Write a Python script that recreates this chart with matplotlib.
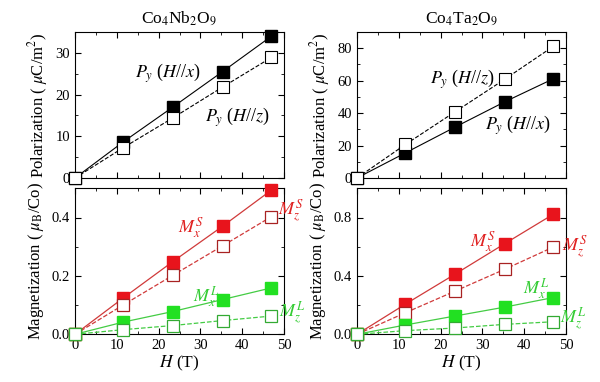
import matplotlib
matplotlib.use("Agg")
import matplotlib.pyplot as plt
from matplotlib.ticker import MultipleLocator

plt.rcParams['font.family'] = ['Liberation Serif', 'DejaVu Serif']
plt.rcParams['mathtext.fontset'] = 'stix'

H = [0, 11.6, 23.4, 35.3, 47.0]

# Co4Nb2O9
nb_Px = [0, 8.7, 17.0, 25.5, 34.0]
nb_Pz = [0, 7.3, 14.4, 21.8, 28.9]
nb_MxS = [0, 0.125, 0.249, 0.370, 0.494]
nb_MzS = [0, 0.101, 0.202, 0.303, 0.403]
nb_MxL = [0, 0.042, 0.078, 0.119, 0.159]
nb_MzL = [0, 0.016, 0.030, 0.047, 0.0625]

# Co4Ta2O9
ta_Px = [0, 15.5, 31.3, 46.9, 61.2]
ta_Pz = [0, 20.7, 40.7, 60.8, 81.2]
ta_MxS = [0, 0.207, 0.411, 0.620, 0.823]
ta_MzS = [0, 0.148, 0.295, 0.445, 0.598]
ta_MxL = [0, 0.064, 0.125, 0.186, 0.252]
ta_MzL = [0, 0.025, 0.043, 0.068, 0.086]

titles = [r'Co$_4$Nb$_2$O$_9$', r'Co$_4$Ta$_2$O$_9$']

red_fill = '#e8141c'
red_line = '#d03a3a'
red_open = '#a82222'
red_text = '#e02020'
green_fill = '#22e022'
green_line = '#44cc44'
green_open = '#33aa33'
green_text = '#33cc33'

fig = plt.figure(figsize=(6.0, 3.82), dpi=100)

lefts = [75/600, 357/600]
w = 209/600
h = 146/382
b_top = 1 - 178/382
b_bot = 1 - 334.3/382

ms = 8

def style(ax, major_y, minor_y):
    ax.tick_params(direction='in', which='both', top=True, right=True, labelsize=10.5)
    ax.tick_params(which='major', length=4.5)
    ax.tick_params(which='minor', length=2.5)
    ax.xaxis.set_major_locator(MultipleLocator(10))
    ax.xaxis.set_minor_locator(MultipleLocator(5))
    ax.yaxis.set_major_locator(MultipleLocator(major_y))
    ax.yaxis.set_minor_locator(MultipleLocator(minor_y))
    ax.set_xlim(0, 50)

data = [
    (nb_Px, nb_Pz, nb_MxS, nb_MzS, nb_MxL, nb_MzL, 35, 10, 5, 0.5, 0.2, 0.1),
    (ta_Px, ta_Pz, ta_MxS, ta_MzS, ta_MxL, ta_MzL, 90, 20, 10, 1.0, 0.4, 0.2),
]

axes_top = []
axes_bot = []
for i, (Px, Pz, MxS, MzS, MxL, MzL, ptop, pmaj, pmin, mtop, mmaj, mmin) in enumerate(data):
    at = fig.add_axes([lefts[i], b_top, w, h])
    ab = fig.add_axes([lefts[i], b_bot, w, h])
    axes_top.append(at); axes_bot.append(ab)

    at.plot(H, Px, '-', color='black', lw=0.8, marker='s', ms=ms,
            mfc='black', mec='black', clip_on=False, zorder=3)
    at.plot(H, Pz, '--', color='black', lw=0.8, marker='s', ms=ms,
            mfc='white', mec='black', mew=0.8, clip_on=False, zorder=3)
    style(at, pmaj, pmin)
    at.set_ylim(0, ptop)
    at.tick_params(labelbottom=False)
    at.set_title(titles[i], fontsize=12.5, pad=6)
    at.set_ylabel(r'Polarization ( $\mu$C/m$^2$)', fontsize=12, labelpad=4)

    ab.plot(H, MxS, '-', color=red_line, lw=0.9, marker='s', ms=ms,
            mfc=red_fill, mec=red_fill, clip_on=False, zorder=3)
    ab.plot(H, MzS, '--', color=red_line, lw=0.9, marker='s', ms=ms,
            mfc='white', mec=red_open, mew=0.9, clip_on=False, zorder=3)
    ab.plot(H, MxL, '-', color=green_line, lw=0.9, marker='s', ms=ms,
            mfc=green_fill, mec=green_fill, clip_on=False, zorder=3)
    ab.plot(H, MzL, '--', color=green_line, lw=0.9, marker='s', ms=ms,
            mfc='white', mec=green_open, mew=0.9, clip_on=False, zorder=3)
    style(ab, mmaj, mmin)
    ab.set_ylim(0, mtop)
    ab.yaxis.set_major_formatter(matplotlib.ticker.FormatStrFormatter('%.1f'))
    ab.set_xlabel(r'$H$ (T)', fontsize=12.5, labelpad=1)
    ab.set_ylabel(r'Magnetization ( $\mu_\mathrm{B}$/Co)', fontsize=12, labelpad=4)

fs = 13
# Top panel labels
axes_top[0].text(14.4, 25.1, r'$P_y$ ($H$//$x$)', fontsize=fs, va='center', ha='left')
axes_top[0].text(31.1, 14.6, r'$P_y$ ($H$//$z$)', fontsize=fs, va='center', ha='left')
axes_top[1].text(17.5, 61, r'$P_y$ ($H$//$z$)', fontsize=fs, va='center', ha='left')
axes_top[1].text(30.6, 32.7, r'$P_y$ ($H$//$x$)', fontsize=fs, va='center', ha='left')

# Bottom panel labels
axes_bot[0].text(24.6, 0.364, r'$M_x^S$', color=red_text, fontsize=fs, va='center', ha='left')
axes_bot[0].text(48.6, 0.425, r'$M_z^S$', color=red_text, fontsize=fs, va='center', ha='left', clip_on=False)
axes_bot[0].text(28.2, 0.128, r'$M_x^L$', color=green_text, fontsize=fs, va='center', ha='left')
axes_bot[0].text(48.8, 0.073, r'$M_z^L$', color=green_text, fontsize=fs, va='center', ha='left', clip_on=False)

axes_bot[1].text(27.0, 0.632, r'$M_x^S$', color=red_text, fontsize=fs, va='center', ha='left')
axes_bot[1].text(49.0, 0.60, r'$M_z^S$', color=red_text, fontsize=fs, va='center', ha='left', clip_on=False)
axes_bot[1].text(39.6, 0.31, r'$M_x^L$', color=green_text, fontsize=fs, va='center', ha='left')
axes_bot[1].text(48.6, 0.11, r'$M_z^L$', color=green_text, fontsize=fs, va='center', ha='left', clip_on=False)

fig.savefig('out.png', dpi=100)
